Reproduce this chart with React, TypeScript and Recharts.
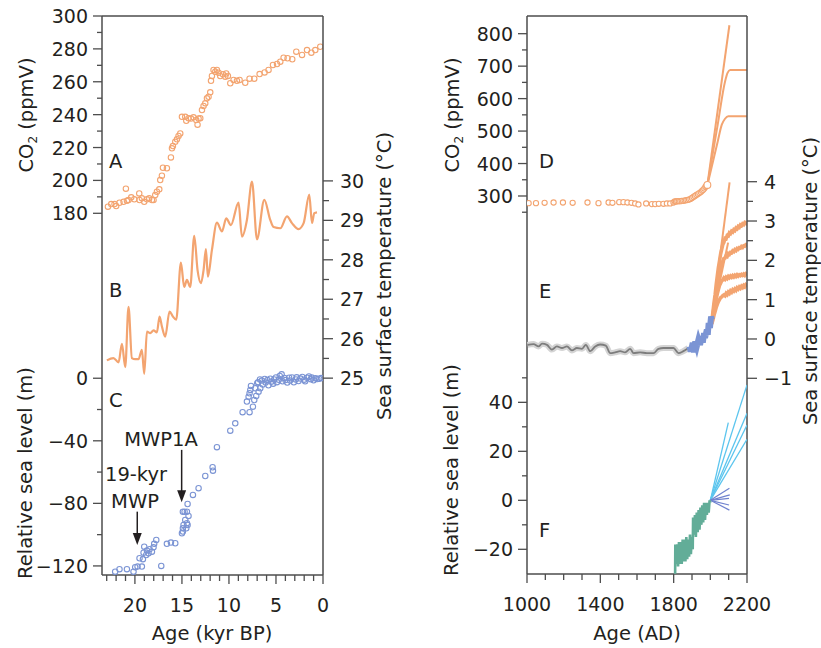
import React from 'react';
import { ComposedChart, Scatter, Line, XAxis, YAxis, ReferenceLine, ReferenceDot } from 'recharts';

// ---------------- data ----------------
// Panel A: CO2 (ppmV) vs age (kyr BP)
const co2Glacial = [
  [22.87, 184], [22.52, 185.6], [22.17, 185.6], [21.99, 184.4], [21.64, 186.4], [21.21, 187], [20.96, 195],
  [20.85, 187.6], [20.68, 188.1], [20.39, 189.7], [20.07, 188.5], [19.54, 192.1], [19.51, 188.1], [19.26, 189.1],
  [19.01, 187], [18.72, 188.5], [18.48, 189.1], [18.19, 188.1], [18.02, 188.1], [17.84, 191.1], [17.66, 193.1],
  [17.41, 194.6], [17.31, 200.2], [17.13, 202.9], [17.02, 207.7], [16.6, 207.4], [16.17, 214], [16.06, 219.5],
  [15.96, 220.9], [15.71, 223.5], [15.53, 225], [15.36, 227], [15.18, 228.6], [15.0, 238.7], [14.65, 238.7],
  [14.54, 236.3], [14.3, 237.8], [14.04, 237.6], [13.77, 238.4], [13.48, 236.7], [13.34, 233.9], [13.23, 237.6],
  [13.05, 237.8], [12.87, 242.8], [12.7, 245.3], [12.52, 246.9], [12.34, 249.9], [12.17, 250.9], [11.99, 253.6],
  [11.91, 260.6], [11.81, 263.5], [11.64, 267.2], [11.46, 266.1], [11.28, 267.2], [11.1, 265.5], [10.93, 263.5],
  [10.64, 264.5], [10.39, 263.1], [10.29, 265.1], [10.11, 263.5], [9.86, 259.1], [9.51, 261.1], [9.15, 260.6],
  [8.87, 261.1], [8.27, 259.4], [7.81, 261.9], [7.31, 261.9], [6.74, 264.7], [6.21, 265.7], [5.79, 267.2],
  [5.32, 270.2], [4.89, 270.8], [4.54, 272.2], [4.19, 274.6], [3.77, 274.3], [3.27, 273.7], [2.84, 278.3],
  [2.23, 276.3], [1.7, 279.3], [1.24, 277.7], [0.82, 279.3], [0.29, 281.3],
];

// Panel B: sea surface temperature (°C) vs age (kyr BP)
const sstGlacial = [
  [22.98, 25.45], [22.28, 25.51], [21.74, 25.4], [21.38, 25.87], [21.03, 25.28], [20.68, 26.81], [20.32, 25.51],
  [19.97, 25.48], [19.62, 25.48], [19.26, 25.72], [19.01, 25.11], [18.72, 26.18], [18.37, 26.14], [18.02, 26.21],
  [17.66, 26.16], [17.38, 26.56], [17.13, 26.31], [16.78, 26.05], [16.32, 26.69], [15.96, 26.56], [15.61, 26.48],
  [15.11, 27.93], [14.76, 27.31], [14.47, 27.49], [14.12, 27.31], [13.69, 28.61], [13.34, 27.74], [12.98, 27.41],
  [12.7, 27.74], [12.45, 28.27], [12.24, 27.57], [11.81, 28.25], [11.28, 28.94], [10.74, 28.72], [10.29, 29.05],
  [9.79, 28.88], [8.98, 29.45], [8.62, 28.59], [8.09, 29.01], [7.55, 29.98], [7.02, 28.52], [6.24, 29.52],
  [5.61, 29.01], [5.26, 28.83], [4.54, 28.8], [3.83, 29.1], [3.3, 28.93], [2.6, 28.78], [2.06, 28.93],
  [1.46, 29.65], [1.17, 28.93], [0.93, 29.18], [0.64, 29.2],
];

// Panel C: relative sea level (m) vs age (kyr BP)
const seaGlacial = [
  [22.1, -123.7], [21.64, -122.1], [20.85, -122.1], [20.15, -123.7], [19.97, -120.8], [19.72, -120.4],
  [19.26, -120.4], [19.51, -115.1], [19.15, -115.7], [19.08, -111.5], [19.01, -107.7], [18.8, -113],
  [18.72, -110.2], [18.55, -111.9], [18.44, -109.3], [18.19, -110.9], [18.02, -108.1], [17.95, -105.9],
  [17.73, -103.4], [17.2, -120], [16.6, -105.9], [16.17, -105.1], [15.71, -105.5],
  [15.0, -99.1], [14.9, -95.9], [14.83, -93.8], [14.65, -90.6], [14.47, -92.7], [14.4, -93.8], [14.3, -88.0],
  [14.47, -85.3], [14.9, -85.3], [14.72, -85.3], [14.4, -80.4], [14.54, -95.9], [14.9, -98],
  [13.83, -74.6], [13.23, -70.3], [12.52, -62.5], [11.74, -56.9], [11.7, -59.1], [11.28, -44.1], [9.86, -33.5],
  [9.33, -28.8], [8.55, -21.7], [8.09, -14.9], [7.81, -21.7], [7.91, -11.8], [7.81, -9.6], [7.73, -7.5],
  [7.66, -4.9], [7.45, -18.2], [7.31, -13.9], [7.1, -11.3], [6.85, -8.6], [7.2, -6.4], [6.67, -6.4], [7.0, -3.2],
  [6.9, -2.5], [6.7, -0.8], [6.5, -1.5], [6.4, -4], [6.2, -0.5], [6.1, -2.8], [5.9, -1.2], [5.8, -4.5],
  [5.6, -0.3], [5.5, -2.2], [5.3, -3.5], [5.2, -0.8], [5.0, 0.5], [4.9, -2.5], [4.7, -1], [4.6, 1.5],
  [4.4, 2.5], [4.3, -2], [4.1, 0.2], [4.0, -1.2], [3.8, -2.8], [3.6, 0.3], [3.5, -1.5], [3.3, 0.5],
  [3.1, -2.6], [2.9, -0.8], [2.8, 0.6], [2.6, -1.8], [2.4, -0.2], [2.2, 0.8], [2.0, -0.9], [1.9, -2],
  [1.7, 0.3], [1.5, 1.1], [1.3, -0.6], [1.2, 0.4], [1.0, -1.3], [0.8, 0.0], [0.6, -0.5], [0.4, -0.3], [0.2, 0.1],
];

// Panel D: CO2 (ppmV) vs year AD
const co2Modern = [
  [1009, 278], [1049, 278], [1096, 279], [1145, 280], [1196, 280], [1249, 279], [1330, 280], [1390, 278],
  [1445, 280], [1466, 279], [1503, 281], [1526, 281], [1548, 280], [1570, 279], [1590, 277], [1608, 274],
  [1650, 277], [1681, 275], [1699, 275], [1719, 276], [1744, 276], [1763, 277], [1781, 277], [1799, 280],
  [1806, 283], [1813, 283], [1820, 284], [1828, 284], [1836, 284], [1844, 285], [1852, 285], [1860, 286],
  [1868, 287], [1876, 288], [1884, 289], [1892, 291], [1900, 294], [1908, 297], [1916, 300], [1924, 303],
  [1932, 306], [1940, 309], [1948, 312], [1955, 316], [1961, 319], [1967, 323], [1973, 328], [1978, 331],
];
const co2Latest = [[1984, 334]];
const co2ProjHigh = [[1984, 334], [2104, 826]];
const co2ProjMid = [[1984, 334], [2040, 519], [2080, 652], [2094, 679], [2108, 688], [2200, 688]];
const co2ProjLow = [[1984, 334], [2040, 467], [2062, 519], [2080, 538], [2098, 546], [2200, 546]];

// Panel E: sea surface temperature anomaly (°C) vs year AD
const sstRecon = [
  [1003, -0.15], [1036, -0.13], [1063, -0.19], [1082, -0.12], [1109, -0.15], [1136, -0.27], [1163, -0.19],
  [1191, -0.23], [1218, -0.19], [1245, -0.29], [1272, -0.23], [1300, -0.25], [1321, -0.15], [1345, -0.31],
  [1372, -0.19], [1399, -0.14], [1430, -0.17], [1454, -0.36], [1481, -0.34], [1508, -0.31], [1535, -0.34],
  [1563, -0.25], [1581, -0.36], [1617, -0.34], [1654, -0.36], [1690, -0.36], [1717, -0.25], [1744, -0.23],
  [1771, -0.23], [1799, -0.23], [1826, -0.36], [1853, -0.31], [1880, -0.23],
];
const sstInstr = [
  [1886, -0.19], [1893, -0.32], [1904, -0.1], [1911, -0.34], [1918, -0.06], [1926, -0.19], [1935, -0.02],
  [1944, -0.15], [1953, 0.07], [1959, -0.09], [1966, 0.15], [1971, 0.03], [1981, 0.24], [1986, 0.11],
  [1991, 0.41], [1998, 0.28], [2004, 0.57], [2009, 0.49],
];
const sstProjA = [[2008, 0.5], [2105, 3.98]];
const sstProjF = [[2008, 0.5], [2097, 2.45]];
const sstProjB = [
  [2008, 0.45], [2014, 0.68], [2020, 0.92], [2026, 1.12], [2032, 1.38], [2038, 1.6], [2044, 1.82], [2050, 1.98],
  [2056, 2.16], [2062, 2.28], [2068, 2.4], [2074, 2.46], [2080, 2.56], [2086, 2.55], [2092, 2.63], [2098, 2.62],
  [2104, 2.7], [2110, 2.68], [2116, 2.74], [2122, 2.72], [2128, 2.78], [2134, 2.76], [2140, 2.82], [2146, 2.8],
  [2152, 2.86], [2158, 2.84], [2164, 2.9], [2170, 2.88], [2176, 2.93], [2182, 2.91], [2188, 2.96], [2194, 2.94],
  [2200, 2.99],
];
const sstProjC = [
  [2008, 0.42], [2014, 0.6], [2020, 0.8], [2026, 0.98], [2032, 1.18], [2038, 1.36], [2044, 1.52], [2050, 1.66],
  [2056, 1.78], [2062, 1.9], [2068, 1.98], [2074, 2.05], [2080, 2.06], [2086, 2.12], [2092, 2.1], [2098, 2.17],
  [2104, 2.15], [2110, 2.2], [2116, 2.19], [2122, 2.24], [2128, 2.22], [2134, 2.27], [2140, 2.25], [2146, 2.3],
  [2152, 2.28], [2158, 2.32], [2164, 2.31], [2170, 2.35], [2176, 2.33], [2182, 2.37], [2188, 2.36], [2194, 2.4],
  [2200, 2.4],
];
const sstProjD = [
  [2008, 0.4], [2014, 0.55], [2020, 0.72], [2026, 0.88], [2032, 1.02], [2038, 1.15], [2044, 1.26], [2050, 1.36],
  [2056, 1.42], [2062, 1.48], [2068, 1.5], [2074, 1.55], [2080, 1.52], [2086, 1.57], [2092, 1.54], [2098, 1.59],
  [2104, 1.56], [2110, 1.6], [2116, 1.57], [2122, 1.61], [2128, 1.58], [2134, 1.62], [2140, 1.59], [2146, 1.63],
  [2152, 1.6], [2158, 1.63], [2164, 1.61], [2170, 1.64], [2176, 1.62], [2182, 1.65], [2188, 1.62], [2194, 1.66],
  [2200, 1.64],
];
const sstProjE = [
  [2008, 0.38], [2014, 0.48], [2020, 0.6], [2026, 0.7], [2032, 0.8], [2038, 0.88], [2044, 0.95], [2050, 1.0],
  [2056, 1.05], [2062, 1.07], [2068, 1.1], [2074, 1.12], [2080, 1.1], [2086, 1.16], [2092, 1.13], [2098, 1.19],
  [2104, 1.16], [2110, 1.22], [2116, 1.19], [2122, 1.25], [2128, 1.22], [2134, 1.27], [2140, 1.24], [2146, 1.3],
  [2152, 1.27], [2158, 1.32], [2164, 1.29], [2170, 1.34], [2176, 1.31], [2182, 1.36], [2188, 1.33], [2194, 1.38],
  [2200, 1.36],
];

// Panel F: relative sea level (m) vs year AD
const seaModern = [
  [1808, -30], [1809, -18], [1814, -26], [1819, -18], [1824, -27], [1829, -17], [1834, -26], [1839, -17],
  [1844, -26], [1849, -16], [1854, -25], [1859, -16], [1864, -25], [1869, -15], [1874, -24], [1879, -16],
  [1884, -23], [1889, -14], [1894, -22], [1899, -15], [1904, -20], [1906, -7], [1911, -14], [1916, -6],
  [1921, -15], [1926, -5], [1931, -13], [1936, -4], [1941, -12], [1946, -3], [1951, -10], [1956, -2],
  [1961, -9], [1966, -1], [1971, -8], [1976, -1], [1981, -6], [1986, -1], [1991, -5], [1996, 0], [2000, -1],
];
const seaProjLong = [
  [[2000, 0], [2200, 47.1]],
  [[2000, 0], [2200, 35.5]],
  [[2000, 0], [2200, 30.7]],
  [[2000, 0], [2200, 24.9]],
  [[2000, 0], [2098, 31.7]],
];
const seaProjShort = [
  [[2000, 0], [2104, 4.9]],
  [[2000, 0], [2106, 2.2]],
  [[2000, 0], [2102, 0.8]],
  [[2000, 0], [2102, -1.9]],
  [[2000, 0], [2104, -4.0]],
];

// tick values
const ageTicks = [0, 1, 2, 3, 4, 5, 6, 7, 8, 9, 10, 11, 12, 13, 14, 15, 16, 17, 18, 19, 20, 21, 22, 23];
const yearTicks = [1000, 1100, 1200, 1300, 1400, 1500, 1600, 1700, 1800, 1900, 2000, 2100, 2200];
const co2GlacialTicks = [180, 190, 200, 210, 220, 230, 240, 250, 260, 270, 280, 290, 300];
const sstGlacialTicks = [25, 25.5, 26, 26.5, 27, 27.5, 28, 28.5, 29, 29.5, 30];
const seaGlacialTicks = [-120, -100, -80, -60, -40, -20, 0];
const co2ModernTicks = [250, 300, 350, 400, 450, 500, 550, 600, 650, 700, 750, 800];
const sstModernTicks = [-1, -0.5, 0, 0.5, 1, 1.5, 2, 2.5, 3, 3.5, 4];
const seaModernTicks = [-20, -10, 0, 10, 20, 30, 40, 50];

// ---------------- styling / layout ----------------
const W = 821;
const H = 648;
const FONT = '"DejaVu Sans", Verdana, sans-serif';
const FS = 19;
const INK = '#231f20';
const AXC = '#4d4d4d';
const ORANGE = '#f3a470';
const BLUE = '#7b94d4';
const GRAY = '#7d7d7d';
const HALO = '#d4d4d4';
const GREEN = '#62ad98';
const CYAN = '#5cc5ee';
const DBLUE = '#6f82cf';

const LB = { l: 102, r: 323, t: 16, b: 575 };
const RB = { l: 527, r: 747, t: 16, b: 574 };
// visible axes are 1px wide/high; margins compensate so plot areas coincide
const marginOf = (b: any, ax: { l?: boolean; r?: boolean; t?: boolean; bt?: boolean } = {}) => ({
  left: b.l - (ax.l ? 1 : 0),
  right: W - b.r - (ax.r ? 1 : 0),
  top: b.t - (ax.t ? 1 : 0),
  bottom: H - b.b - (ax.bt ? 1 : 0),
});
const axisStyle = { stroke: AXC, strokeWidth: 1.5 };

const toXY = (arr: number[][]) => arr.map(([x, y]) => ({ x, y }));
const fmt = (v: number) => (v < 0 ? '\u2212' + Math.abs(v) : String(v));

const leftTick = (isMajor: (v: number) => boolean) => (p: any) => {
  const { x, y, payload } = p;
  const m = isMajor(payload.value);
  return (
    <g>
      <line x1={x - (m ? 9 : 5)} x2={x} y1={y} y2={y} stroke={AXC} strokeWidth={1.3} />
      {m && (
        <text x={x - 14} y={y} dy={7} textAnchor="end" fontFamily={FONT} fontSize={FS} fill={INK}>
          {fmt(payload.value)}
        </text>
      )}
    </g>
  );
};
const rightTick = (isMajor: (v: number) => boolean) => (p: any) => {
  const { x, y, payload } = p;
  const m = isMajor(payload.value);
  return (
    <g>
      <line x1={x} x2={x + (m ? 10 : 6)} y1={y} y2={y} stroke={AXC} strokeWidth={1.3} />
      {m && (
        <text x={x + 17} y={y} dy={7} textAnchor="start" fontFamily={FONT} fontSize={FS} fill={INK}>
          {fmt(payload.value)}
        </text>
      )}
    </g>
  );
};
const bottomTick = (isMajor: (v: number) => boolean) => (p: any) => {
  const { x, y, payload } = p;
  const m = isMajor(payload.value);
  return (
    <g>
      <line x1={x} x2={x} y1={y} y2={y + (m ? 9 : 6)} stroke={AXC} strokeWidth={1.3} />
      {m && (
        <text x={x} y={y + 37} textAnchor="middle" fontFamily={FONT} fontSize={FS} fill={INK}>
          {fmt(payload.value)}
        </text>
      )}
    </g>
  );
};

const openCircle = (color: string, fill = 'none', r = 2.7) => (p: any) => (
  <circle cx={p.cx} cy={p.cy} r={r} fill={fill} stroke={color} strokeWidth={1.1} />
);
const arrowHead = (p: any) => (
  <polygon points={`${p.cx},${p.cy} ${p.cx - 4.5},${p.cy - 12} ${p.cx + 4.5},${p.cy - 12}`} fill={INK} />
);

const layerStyle: React.CSSProperties = { position: 'absolute', left: 0, top: 0 };

const AGE_DOMAIN: [number, number] = [0, 23.5];
const YEAR_DOMAIN: [number, number] = [1000, 2200];

function Title({ x, y, children }: any) {
  return (
    <text transform={`translate(${x},${y}) rotate(-90)`} textAnchor="middle" fontFamily={FONT} fontSize={19.5} fill={INK}>
      {children}
    </text>
  );
}
function Tag({ x, y, children, anchor = 'start' }: any) {
  return (
    <text x={x} y={y} textAnchor={anchor} fontFamily={FONT} fontSize={19.5} fill={INK}>
      {children}
    </text>
  );
}

export default function App() {
  return (
    <div style={{ position: 'absolute', left: 0, top: 0, width: W, height: H, background: '#fff', overflow: 'hidden' }}>
      {/* ---------- LEFT PANEL ---------- */}
      <div style={layerStyle}>
        <ComposedChart width={W} height={H} margin={marginOf(LB, { l: true, t: true, bt: true })}>
          <XAxis
            dataKey="x" type="number" domain={AGE_DOMAIN} reversed allowDataOverflow
            ticks={ageTicks} interval={0} tickSize={0} tickMargin={0} tickLine={false}
            tick={bottomTick((v) => v % 5 === 0)} height={1} axisLine={axisStyle}
          />
          <XAxis
            xAxisId="top" orientation="top" dataKey="x" type="number" domain={AGE_DOMAIN} reversed
            allowDataOverflow tick={false} tickLine={false} height={1} axisLine={axisStyle}
          />
          <YAxis
            dataKey="y" type="number" domain={[-40, 300]} allowDataOverflow
            ticks={co2GlacialTicks} interval={0} tickSize={0} tickMargin={0} tickLine={false}
            tick={leftTick((v) => v % 20 === 0)} width={1} axisLine={axisStyle}
          />
          <Scatter data={toXY(co2Glacial)} shape={openCircle(ORANGE)} isAnimationActive={false} />
        </ComposedChart>
      </div>
      <div style={layerStyle}>
        <ComposedChart width={W} height={H} margin={marginOf(LB, { r: true })}>
          <XAxis dataKey="x" type="number" domain={AGE_DOMAIN} reversed allowDataOverflow hide />
          <YAxis
            orientation="right" dataKey="y" type="number" domain={[20.01, 34.18]} allowDataOverflow
            ticks={sstGlacialTicks} interval={0} tickSize={0} tickMargin={0} tickLine={false}
            tick={rightTick((v) => Number.isInteger(v))} width={1} axisLine={axisStyle}
          />
          <Line data={toXY(sstGlacial)} dataKey="y" type="monotone" stroke={ORANGE} strokeWidth={2.2} dot={false} isAnimationActive={false} />
        </ComposedChart>
      </div>
      <div style={layerStyle}>
        <ComposedChart width={W} height={H} margin={marginOf(LB, { l: true })}>
          <XAxis dataKey="x" type="number" domain={AGE_DOMAIN} reversed allowDataOverflow hide />
          <YAxis
            dataKey="y" type="number" domain={[-125.8, 231.6]} allowDataOverflow
            ticks={seaGlacialTicks} interval={0} tickSize={0} tickMargin={0} tickLine={false}
            tick={leftTick((v) => v % 40 === 0)} width={1} axisLine={false}
          />
          <Scatter data={toXY(seaGlacial)} shape={openCircle(BLUE)} isAnimationActive={false} />
          <ReferenceLine segment={[{ x: 15.03, y: -45.8 }, { x: 15.03, y: -73 }]} stroke={INK} strokeWidth={1.5} />
          <ReferenceDot x={15.03} y={-79.3} shape={arrowHead} />
          <ReferenceLine segment={[{ x: 19.75, y: -85.3 }, { x: 19.75, y: -100 }]} stroke={INK} strokeWidth={1.5} />
          <ReferenceDot x={19.75} y={-106.6} shape={arrowHead} />
        </ComposedChart>
      </div>

      {/* ---------- RIGHT PANEL ---------- */}
      <div style={layerStyle}>
        <ComposedChart width={W} height={H} margin={marginOf(RB, { l: true, t: true, bt: true })}>
          <XAxis
            dataKey="x" type="number" domain={YEAR_DOMAIN} allowDataOverflow
            ticks={yearTicks} interval={0} tickSize={0} tickMargin={0} tickLine={false}
            tick={bottomTick((v) => (v - 1000) % 400 === 0)} height={1} axisLine={axisStyle}
          />
          <XAxis
            xAxisId="top" orientation="top" dataKey="x" type="number" domain={YEAR_DOMAIN}
            allowDataOverflow tick={false} tickLine={false} height={1} axisLine={axisStyle}
          />
          <YAxis
            dataKey="y" type="number" domain={[-864.5, 854.5]} allowDataOverflow
            ticks={co2ModernTicks} interval={0} tickSize={0} tickMargin={0} tickLine={false}
            tick={leftTick((v) => v % 100 === 0)} width={1} axisLine={axisStyle}
          />
          <Line data={toXY(co2ProjHigh)} dataKey="y" type="linear" stroke={ORANGE} strokeWidth={2} dot={false} isAnimationActive={false} />
          <Line data={toXY(co2ProjMid)} dataKey="y" type="monotone" stroke={ORANGE} strokeWidth={2} dot={false} isAnimationActive={false} />
          <Line data={toXY(co2ProjLow)} dataKey="y" type="monotone" stroke={ORANGE} strokeWidth={2} dot={false} isAnimationActive={false} />
          <Scatter data={toXY(co2Modern)} shape={openCircle(ORANGE, '#fff', 2.6)} isAnimationActive={false} />
          <Scatter data={toXY(co2Latest)} shape={openCircle(ORANGE, '#fff', 3.4)} isAnimationActive={false} />
        </ComposedChart>
      </div>
      <div style={layerStyle}>
        <ComposedChart width={W} height={H} margin={marginOf(RB, { r: true })}>
          <XAxis dataKey="x" type="number" domain={YEAR_DOMAIN} allowDataOverflow hide />
          <YAxis
            orientation="right" dataKey="y" type="number" domain={[-5.977, 8.214]} allowDataOverflow
            ticks={sstModernTicks} interval={0} tickSize={0} tickMargin={0} tickLine={false}
            tick={rightTick((v) => Number.isInteger(v))} width={1} axisLine={axisStyle}
          />
          <Line data={toXY(sstRecon)} dataKey="y" type="monotone" stroke={HALO} strokeWidth={6} dot={false} isAnimationActive={false} />
          <Line data={toXY(sstRecon)} dataKey="y" type="monotone" stroke={GRAY} strokeWidth={1.8} dot={false} isAnimationActive={false} />
          <Line data={toXY(sstProjA)} dataKey="y" type="linear" stroke={ORANGE} strokeWidth={2} dot={false} isAnimationActive={false} />
          <Line data={toXY(sstProjF)} dataKey="y" type="linear" stroke={ORANGE} strokeWidth={2} dot={false} isAnimationActive={false} />
          <Line data={toXY(sstProjB)} dataKey="y" type="linear" stroke={ORANGE} strokeWidth={3.6} dot={false} isAnimationActive={false} />
          <Line data={toXY(sstProjC)} dataKey="y" type="linear" stroke={ORANGE} strokeWidth={3.6} dot={false} isAnimationActive={false} />
          <Line data={toXY(sstProjD)} dataKey="y" type="linear" stroke={ORANGE} strokeWidth={3.6} dot={false} isAnimationActive={false} />
          <Line data={toXY(sstProjE)} dataKey="y" type="linear" stroke={ORANGE} strokeWidth={3.6} dot={false} isAnimationActive={false} />
          <Line data={toXY(sstInstr)} dataKey="y" type="linear" stroke={BLUE} strokeWidth={6} dot={false} isAnimationActive={false} />
        </ComposedChart>
      </div>
      <div style={layerStyle}>
        <ComposedChart width={W} height={H} margin={marginOf(RB, { l: true })}>
          <XAxis dataKey="x" type="number" domain={YEAR_DOMAIN} allowDataOverflow hide />
          <YAxis
            dataKey="y" type="number" domain={[-30.08, 197.7]} allowDataOverflow
            ticks={seaModernTicks} interval={0} tickSize={0} tickMargin={0} tickLine={false}
            tick={leftTick((v) => v % 20 === 0)} width={1} axisLine={false}
          />
          {seaProjLong.map((d, i) => (
            <Line key={'l' + i} data={toXY(d)} dataKey="y" type="linear" stroke={CYAN} strokeWidth={1.3} dot={false} isAnimationActive={false} />
          ))}
          {seaProjShort.map((d, i) => (
            <Line key={'s' + i} data={toXY(d)} dataKey="y" type="linear" stroke={DBLUE} strokeWidth={1.2} dot={false} isAnimationActive={false} />
          ))}
          <Line data={toXY(seaModern)} dataKey="y" type="linear" stroke={GREEN} strokeWidth={2.6} dot={false} isAnimationActive={false} />
        </ComposedChart>
      </div>

      {/* ---------- text overlay ---------- */}
      <svg width={W} height={H} style={{ position: 'absolute', left: 0, top: 0, pointerEvents: 'none' }}>
        <Title x={33} y={115}>
          CO<tspan fontSize={12} dy={4}>2</tspan><tspan dy={-4}> (ppmV)</tspan>
        </Title>
        <Title x={32} y={473}>Relative sea level (m)</Title>
        <Title x={391} y={276}>Sea surface temperature (°C)</Title>
        <Title x={459} y={115}>
          CO<tspan fontSize={12} dy={4}>2</tspan><tspan dy={-4}> (ppmV)</tspan>
        </Title>
        <Title x={458} y={470}>Relative sea level (m)</Title>
        <Title x={817} y={281}>Sea surface temperature (°C)</Title>

        <Tag x={212} y={640} anchor="middle">Age (kyr BP)</Tag>
        <Tag x={637} y={640} anchor="middle">Age (AD)</Tag>

        <Tag x={109} y={168}>A</Tag>
        <Tag x={109} y={297}>B</Tag>
        <Tag x={109} y={407}>C</Tag>
        <Tag x={539} y={168}>D</Tag>
        <Tag x={539} y={298}>E</Tag>
        <Tag x={539} y={537}>F</Tag>

        <Tag x={161} y={446} anchor="middle">MWP1A</Tag>
        <Tag x={136} y={481} anchor="middle">19-kyr</Tag>
        <Tag x={135} y={508} anchor="middle">MWP</Tag>
      </svg>
    </div>
  );
}
